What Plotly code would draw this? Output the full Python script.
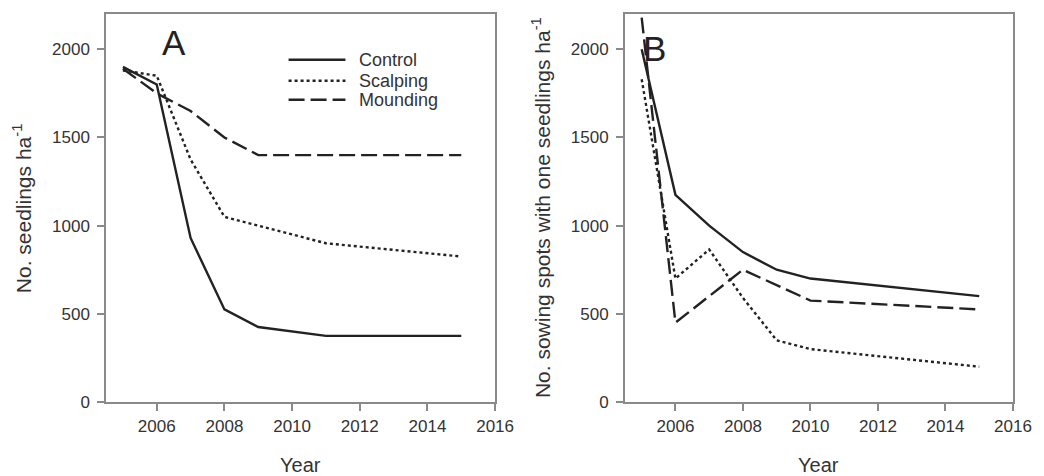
import plotly.graph_objects as go

# Panel A: seedlings per hectare
years_a_control = [2005, 2006, 2007, 2008, 2009, 2011, 2015]
control_a = [1900, 1800, 930, 525, 425, 375, 375]
years_a_scalping = [2005, 2006, 2007, 2008, 2009, 2011, 2015]
scalping_a = [1880, 1850, 1375, 1050, 1000, 900, 825]
years_a_mounding = [2005, 2006, 2007, 2008, 2009, 2015]
mounding_a = [1890, 1750, 1650, 1500, 1400, 1400]

# Panel B: sowing spots with one seedling per hectare
years_b_control = [2005, 2006, 2007, 2008, 2009, 2010, 2015]
control_b = [2000, 1175, 1000, 850, 750, 700, 600]
years_b_scalping = [2005, 2006, 2007, 2008, 2009, 2010, 2015]
scalping_b = [1830, 700, 865, 590, 350, 300, 200]
years_b_mounding = [2005, 2006, 2008, 2010, 2015]
mounding_b = [2180, 450, 750, 575, 525]

x_ticks = [2006, 2008, 2010, 2012, 2014, 2016]
y_ticks = [0, 500, 1000, 1500, 2000]
treatments = ["Control", "Scalping", "Mounding"]

FONT = "Liberation Sans, Arial, sans-serif"
INK = "#222222"
TXT = "#333333"
AXIS = "#8a8a8a"

styles = {
    "Control": dict(color=INK, width=2.4, dash="solid"),
    "Scalping": dict(color=INK, width=2.4, dash="dot"),
    "Mounding": dict(color=INK, width=2.4, dash="16px,6px"),
}

fig = go.Figure()

panel_a = [("Control", years_a_control, control_a),
           ("Scalping", years_a_scalping, scalping_a),
           ("Mounding", years_a_mounding, mounding_a)]
panel_b = [("Control", years_b_control, control_b),
           ("Scalping", years_b_scalping, scalping_b),
           ("Mounding", years_b_mounding, mounding_b)]

for name, xs, ys in panel_a:
    fig.add_trace(go.Scatter(x=xs, y=ys, mode="lines", name=name,
                             line=styles[name], xaxis="x", yaxis="y"))
for name, xs, ys in panel_b:
    fig.add_trace(go.Scatter(x=xs, y=ys, mode="lines", name=name,
                             line=styles[name], xaxis="x2", yaxis="y2"))

axis_common = dict(
    showgrid=False, zeroline=False, showline=True, linecolor=AXIS,
    linewidth=1.5, mirror=True, ticks="outside", ticklen=7,
    tickcolor=AXIS, tickwidth=1.5,
    tickfont=dict(family=FONT, size=17, color=TXT),
)

fig.update_layout(
    width=1044, height=476,
    margin=dict(l=106, r=29, t=12, b=74),
    paper_bgcolor="white", plot_bgcolor="white",
    font=dict(family=FONT, color=TXT),
    showlegend=False,
    xaxis=dict(domain=[0, 0.429], range=[2004.5, 2016], tickvals=x_ticks,
               ticklabelstandoff=1, **axis_common),
    yaxis=dict(domain=[0, 1], range=[0, 2200], tickvals=y_ticks,
               ticklabelstandoff=4, **axis_common),
    xaxis2=dict(domain=[0.572, 1], range=[2004.5, 2016], tickvals=x_ticks,
                ticklabelstandoff=1, anchor="y2", **axis_common),
    yaxis2=dict(domain=[0, 1], range=[0, 2200], tickvals=y_ticks,
                ticklabelstandoff=4, anchor="x2", **axis_common),
)

# Legend key inside panel A: line sample plus label for each treatment
legend_rows_y = [0.882, 0.828, 0.779]
shapes = []
annotations = []
for name, ly in zip(treatments, legend_rows_y):
    st = styles[name]
    shapes.append(dict(type="line", xref="paper", yref="paper",
                       x0=0.2013, x1=0.2640, y0=ly, y1=ly,
                       line=dict(color=st["color"], width=st["width"],
                                 dash=st["dash"])))
    annotations.append(dict(text=name, x=0.2772, y=ly, xref="paper",
                            yref="paper", xanchor="left", yanchor="middle",
                            showarrow=False,
                            font=dict(family=FONT, size=18, color=TXT)))

annotations += [
    dict(text="A", x=0.0748, y=0.926, xref="paper", yref="paper",
         xanchor="center", yanchor="middle", showarrow=False,
         font=dict(family=FONT, size=35, color=INK)),
    dict(text="B", x=0.605, y=0.910, xref="paper", yref="paper",
         xanchor="center", yanchor="middle", showarrow=False,
         font=dict(family=FONT, size=35, color=INK)),
    dict(text="Year", x=0.214, y=-0.1615, xref="paper", yref="paper",
         xanchor="center", yanchor="middle", showarrow=False,
         font=dict(family=FONT, size=20, color=TXT)),
    dict(text="Year", x=0.786, y=-0.1615, xref="paper", yref="paper",
         xanchor="center", yanchor="middle", showarrow=False,
         font=dict(family=FONT, size=20, color=TXT)),
    dict(text="No. seedlings ha<sup>-1</sup>", x=-0.0924, y=0.5,
         xref="paper", yref="paper", textangle=-90, xanchor="center",
         yanchor="middle", showarrow=False,
         font=dict(family=FONT, size=21, color=TXT)),
    dict(text="No. sowing spots with one seedlings ha<sup>-1</sup>",
         x=0.4797, y=0.5, xref="paper", yref="paper", textangle=-90,
         xanchor="center", yanchor="middle", showarrow=False,
         font=dict(family=FONT, size=21, color=TXT)),
]
fig.update_layout(shapes=shapes, annotations=annotations)

fig.write_html("out.html")
